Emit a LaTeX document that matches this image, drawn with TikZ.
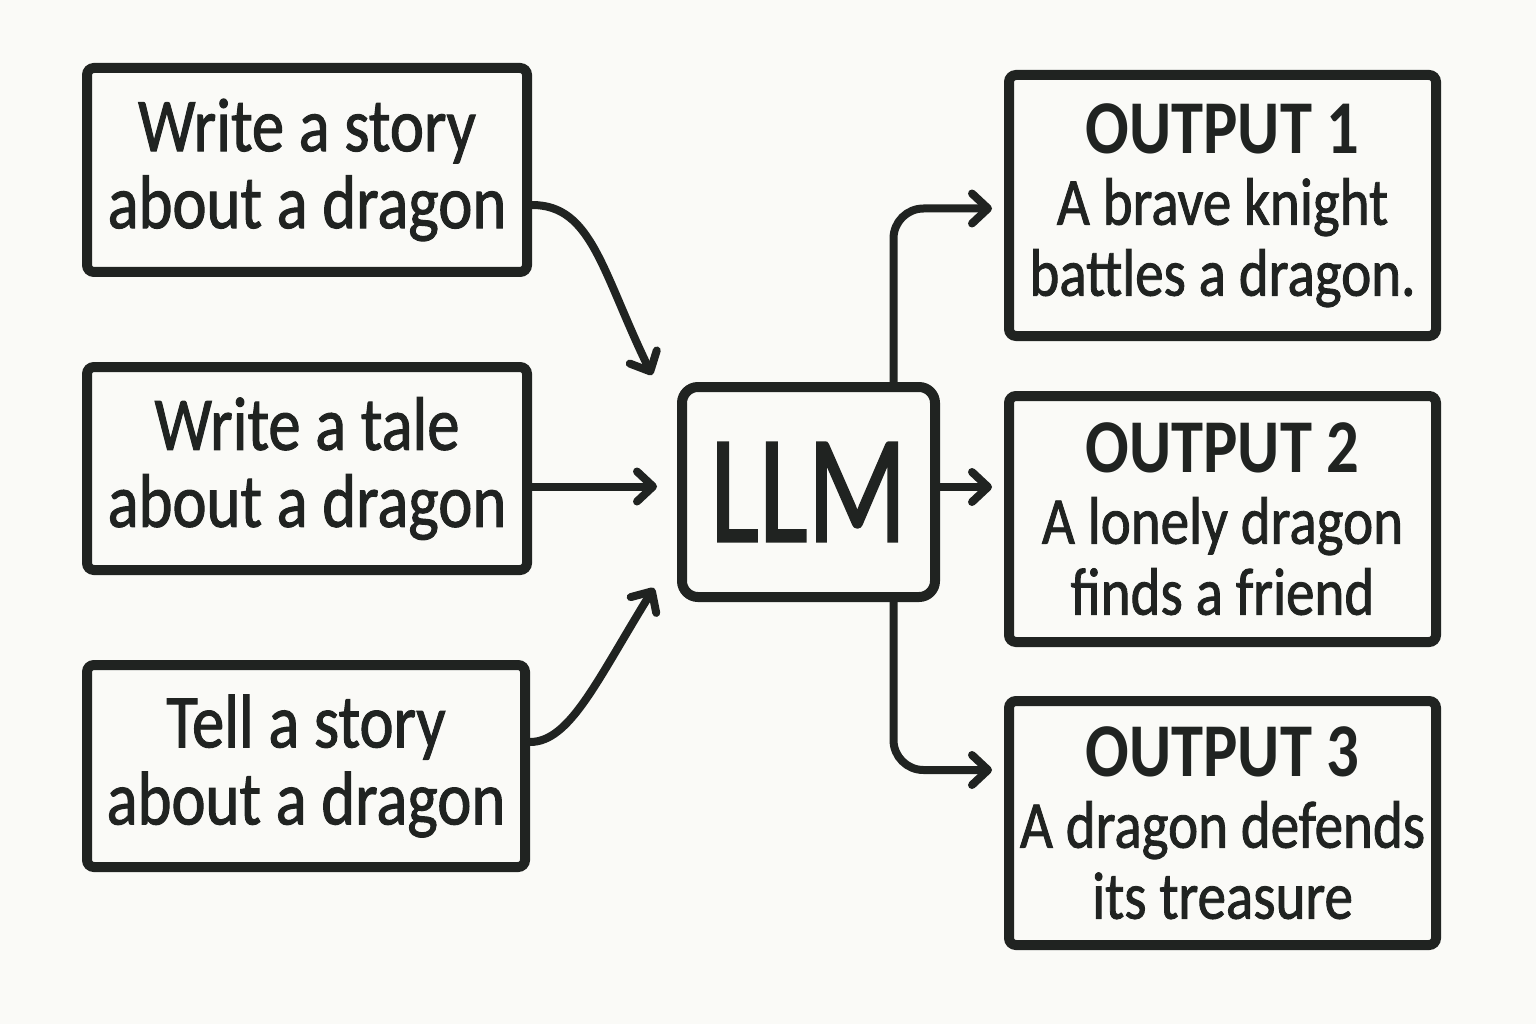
\documentclass[tikz,border=0pt]{standalone}
\usepackage{fontspec}
\usepackage{graphicx}
\setmainfont{Carlito}[FakeStretch=0.85,FakeBold=1.3]
\newfontfamily\boldout{Carlito}[FakeStretch=0.85,UprightFont=*-Bold]
\usetikzlibrary{arrows.meta,calc}
\definecolor{ink}{HTML}{202321}
\definecolor{paper}{HTML}{FAFAF7}
\begin{document}
\begin{tikzpicture}[x=1pt,y=-1pt,
  box/.style={draw=ink,line width=10pt,rounded corners=7pt,align=center,inner sep=0pt,text=ink},
  lefttext/.style={font=\fontsize{76}{77}\selectfont},
  righttext/.style={font=\fontsize{67}{71}\selectfont},
  outhead/.style={},
  arrow/.style={draw=ink,line width=8pt,line cap=round,line join=round,-{Straight Barb[length=16pt,width=30pt,round]}}]
\fill[paper] (0,0) rectangle (1536,1024);
\useasboundingbox (0,0) rectangle (1536,1024);
% inputs
\node[box,lefttext,minimum width=440pt,minimum height=204pt] (in1) at (307,170) {Write a story\\about a dragon};
\node[box,lefttext,minimum width=440pt,minimum height=203pt] (in2) at (307,468.5) {Write a tale\\about a dragon};
\node[box,lefttext,minimum width=438pt,minimum height=202pt] (in3) at (306,766) {Tell a story\\about a dragon};
% LLM
\node[box,rounded corners=16pt,minimum width=253pt,minimum height=210pt,font=\fontsize{155}{155}\selectfont] (llm) at (808.5,492) {\scalebox{0.88}[1]{LLM}};
% outputs
\node[box,righttext,minimum width=427pt,minimum height=261pt] (out1) at (1222.5,205.5) {{\fontsize{76}{72}\selectfont\boldout OUTPUT 1}\\A brave knight\\battles a dragon.};
\node[box,righttext,minimum width=427pt,minimum height=246pt] (out2) at (1222.5,519) {{\fontsize{76}{72}\selectfont\boldout OUTPUT 2}\\A lonely dragon\\finds a friend};
\node[box,righttext,minimum width=427pt,minimum height=244pt] (out3) at (1222.5,823) {{\fontsize{76}{72}\selectfont\boldout OUTPUT 3}\\A dragon defends\\its treasure};
% input connectors
\coordinate (s1) at ($(in1.east)+(0,35)$);
\coordinate (e1) at ($(llm.north west)+(-25,-7)$);
\draw[arrow] (s1) .. controls ($(s1)+(60,0)$) and ($(e1)+(-50,-103)$) .. (e1);
\coordinate (s2) at ($(in2.east)+(0,18)$);
\draw[arrow,shorten >=20pt] (s2) -- (s2 -| llm.west);
\coordinate (s3) at ($(in3.east)+(0,-24)$);
\coordinate (e3) at ($(llm.south west)+(-23,-14)$);
\draw[arrow] (s3) .. controls ($(s3)+(40,0)$) and ($(e3)+(-57,92)$) .. (e3);
% output connectors
\draw[arrow,rounded corners=30pt,shorten >=12pt] ($(llm.north)+(85,0)$) |- ($(out1.west)+(0,3)$);
\draw[arrow,shorten >=12pt] ($(llm.east)+(0,-5)$) -- ($(out2.west|-llm.east)+(0,-5)$);
\draw[arrow,rounded corners=30pt,shorten >=12pt] ($(llm.south)+(85,0)$) |- ($(out3.west)+(0,-53)$);
\end{tikzpicture}
\end{document}
